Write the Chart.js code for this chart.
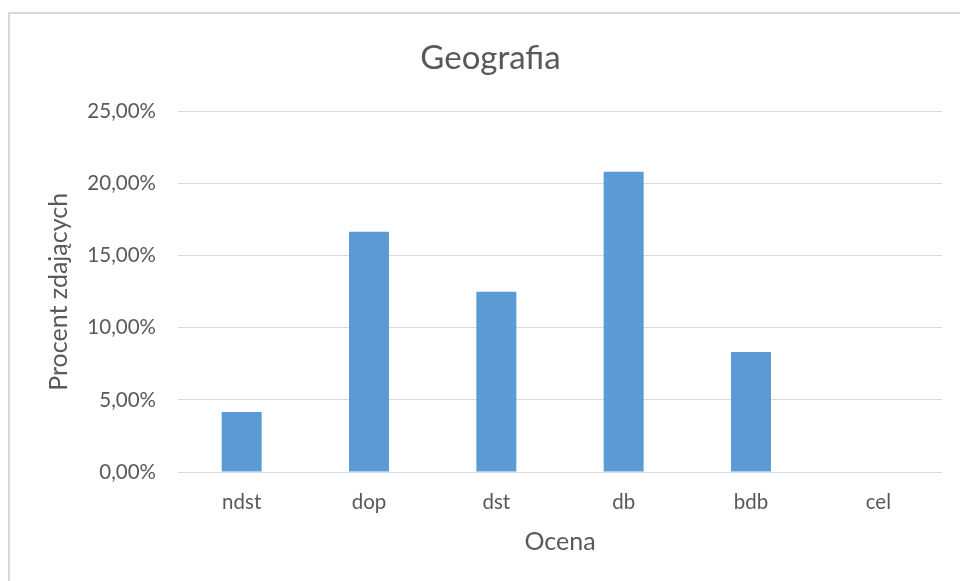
<!DOCTYPE html>
<html>
<head>
<meta charset="utf-8">
<script src="https://cdn.jsdelivr.net/npm/chart.js@4"></script>
<style>
  html, body { margin: 0; padding: 0; background: #fff; overflow: hidden; width: 960px; height: 581px; }
  #frame { position: absolute; left: 8px; top: 12px; width: 1000px; height: 1000px; border: 2px solid #d9d9d9; box-sizing: border-box; }
  #wrap { position: absolute; left: 10px; top: 14px; width: 962px; height: 567px; }
</style>
</head>
<body>
<div id="frame"></div>
<div id="wrap"><canvas id="chart"></canvas></div>
<script>
// DATA
const grades = ['ndst', 'dop', 'dst', 'db', 'bdb', 'cel'];
const percentPassing = [4.17, 16.67, 12.5, 20.83, 8.33, 0];
const yTicks = [0, 5, 10, 15, 20, 25];

const textColor = '#595959';
const gridColor = '#d9d9d9';
const fontFamily = 'Lato, "Open Sans", sans-serif';

const fmt = v => v.toFixed(2).replace('.', ',') + '%';

new Chart(document.getElementById('chart'), {
    type: 'bar',
    data: {
        labels: grades,
        datasets: [{
            data: percentPassing,
            backgroundColor: '#5b9bd5',
            barPercentage: 0.314,
            categoryPercentage: 1
        }]
    },
    options: {
        responsive: true,
        maintainAspectRatio: false,
        devicePixelRatio: 1,
        animation: false,
        layout: { padding: { left: 29, right: 30, top: 0, bottom: 0 } },
        plugins: {
            legend: { display: false },
            tooltip: { enabled: false },
            title: {
                display: true,
                text: 'Geografia',
                color: textColor,
                font: { family: fontFamily, size: 33, weight: 'normal' },
                padding: { top: 25, bottom: 33 }
            }
        },
        scales: {
            x: {
                grid: { display: false },
                border: { display: false },
                ticks: { color: textColor, font: { family: fontFamily, size: 20.5 }, padding: 10, maxRotation: 0 },
                title: {
                    display: true,
                    text: 'Ocena',
                    color: textColor,
                    font: { family: fontFamily, size: 25 },
                    padding: { top: 0, bottom: 24 }
                },
                afterFit: s => { s.height = 109; }
            },
            y: {
                min: 0,
                max: 25,
                afterBuildTicks: s => { s.ticks = yTicks.map(v => ({ value: v })); },
                grid: { color: gridColor, lineWidth: 1, drawTicks: false },
                border: { display: false },
                ticks: { color: textColor, font: { family: fontFamily, size: 20.5 }, padding: 22, callback: v => fmt(v) },
                title: {
                    display: true,
                    text: 'Procent zdających',
                    color: textColor,
                    font: { family: fontFamily, size: 25 },
                    padding: { top: 5, bottom: 0 }
                },
                afterFit: s => { s.width = 139; }
            }
        }
    }
});
</script>
</body>
</html>
